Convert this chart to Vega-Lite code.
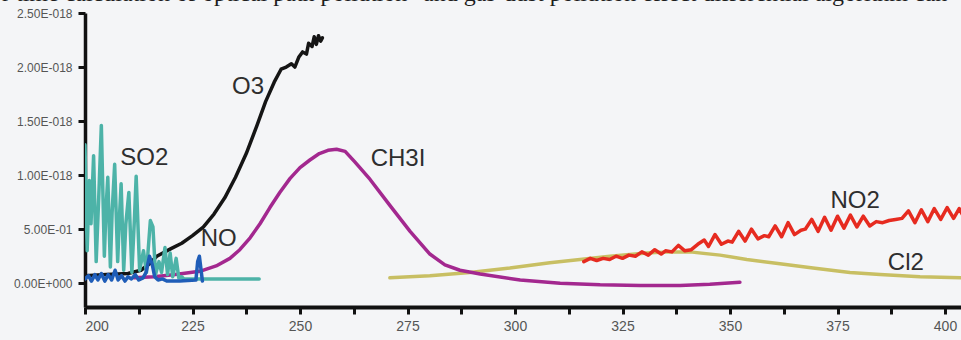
{
  "$schema": "https://vega.github.io/schema/vega-lite/v6.json",
  "autosize": {"type": "none"},
  "padding": {"left": 85, "top": 13, "right": 0, "bottom": 33},
  "width": 876,
  "height": 294,
  "background": "#f4f5f7",
  "title": {
    "text": "r time calculation of optical path pollution\" and gas-dust pollution effect differential algorithm can",
    "anchor": "start",
    "frame": "group",
    "orient": "top",
    "font": "Liberation Serif",
    "fontSize": 24,
    "fontWeight": "normal",
    "color": "#1e1e1e",
    "baseline": "alphabetic",
    "offset": -18,
    "dx": -83
  },
  "config": {
    "view": {"stroke": null},
    "axis": {"grid": false, "zindex": 1, "labelFont": "Liberation Sans", "titleFont": "Liberation Sans"}
  },
  "datasets": {
    "curves": [
      {"s": "Cl2", "nm": 270.9, "v": 0.05},
      {"s": "Cl2", "nm": 280.2, "v": 0.07},
      {"s": "Cl2", "nm": 289.5, "v": 0.10},
      {"s": "Cl2", "nm": 298.8, "v": 0.14},
      {"s": "Cl2", "nm": 308.1, "v": 0.19},
      {"s": "Cl2", "nm": 315.1, "v": 0.22},
      {"s": "Cl2", "nm": 322.1, "v": 0.25},
      {"s": "Cl2", "nm": 330.6, "v": 0.28},
      {"s": "Cl2", "nm": 336.0, "v": 0.29},
      {"s": "Cl2", "nm": 340.7, "v": 0.29},
      {"s": "Cl2", "nm": 347.7, "v": 0.26},
      {"s": "Cl2", "nm": 353.9, "v": 0.22},
      {"s": "Cl2", "nm": 361.6, "v": 0.18},
      {"s": "Cl2", "nm": 369.3, "v": 0.14},
      {"s": "Cl2", "nm": 377.9, "v": 0.10},
      {"s": "Cl2", "nm": 384.9, "v": 0.08},
      {"s": "Cl2", "nm": 394.2, "v": 0.06},
      {"s": "Cl2", "nm": 404.0, "v": 0.05},

      {"s": "CH3I", "nm": 211.5, "v": 0.05},
      {"s": "CH3I", "nm": 216.0, "v": 0.06},
      {"s": "CH3I", "nm": 221.0, "v": 0.08},
      {"s": "CH3I", "nm": 226.7, "v": 0.11},
      {"s": "CH3I", "nm": 230.5, "v": 0.16},
      {"s": "CH3I", "nm": 233.7, "v": 0.23},
      {"s": "CH3I", "nm": 236.0, "v": 0.31},
      {"s": "CH3I", "nm": 238.4, "v": 0.42},
      {"s": "CH3I", "nm": 240.7, "v": 0.55},
      {"s": "CH3I", "nm": 243.0, "v": 0.70},
      {"s": "CH3I", "nm": 245.3, "v": 0.84},
      {"s": "CH3I", "nm": 247.7, "v": 0.97},
      {"s": "CH3I", "nm": 250.0, "v": 1.07},
      {"s": "CH3I", "nm": 252.3, "v": 1.14},
      {"s": "CH3I", "nm": 254.5, "v": 1.20},
      {"s": "CH3I", "nm": 256.5, "v": 1.23},
      {"s": "CH3I", "nm": 258.5, "v": 1.24},
      {"s": "CH3I", "nm": 260.5, "v": 1.22},
      {"s": "CH3I", "nm": 262.8, "v": 1.12},
      {"s": "CH3I", "nm": 266.3, "v": 0.96},
      {"s": "CH3I", "nm": 270.9, "v": 0.72},
      {"s": "CH3I", "nm": 275.6, "v": 0.48},
      {"s": "CH3I", "nm": 280.2, "v": 0.27},
      {"s": "CH3I", "nm": 283.7, "v": 0.17},
      {"s": "CH3I", "nm": 287.2, "v": 0.12},
      {"s": "CH3I", "nm": 291.9, "v": 0.085},
      {"s": "CH3I", "nm": 301.2, "v": 0.03},
      {"s": "CH3I", "nm": 310.5, "v": 0.0},
      {"s": "CH3I", "nm": 319.8, "v": -0.015},
      {"s": "CH3I", "nm": 329.1, "v": -0.02},
      {"s": "CH3I", "nm": 338.4, "v": -0.02},
      {"s": "CH3I", "nm": 345.3, "v": -0.01},
      {"s": "CH3I", "nm": 352.3, "v": 0.01},

      {"s": "O3", "nm": 200.0, "v": 0.07},
      {"s": "O3", "nm": 205.0, "v": 0.08},
      {"s": "O3", "nm": 210.0, "v": 0.09},
      {"s": "O3", "nm": 213.0, "v": 0.12},
      {"s": "O3", "nm": 215.0, "v": 0.18},
      {"s": "O3", "nm": 216.7, "v": 0.25},
      {"s": "O3", "nm": 220.0, "v": 0.32},
      {"s": "O3", "nm": 222.5, "v": 0.37},
      {"s": "O3", "nm": 225.0, "v": 0.44},
      {"s": "O3", "nm": 227.5, "v": 0.52},
      {"s": "O3", "nm": 230.0, "v": 0.64},
      {"s": "O3", "nm": 232.5, "v": 0.79},
      {"s": "O3", "nm": 235.0, "v": 0.98},
      {"s": "O3", "nm": 237.5, "v": 1.20},
      {"s": "O3", "nm": 240.0, "v": 1.46},
      {"s": "O3", "nm": 242.0, "v": 1.68},
      {"s": "O3", "nm": 244.0, "v": 1.86},
      {"s": "O3", "nm": 245.6, "v": 1.98},
      {"s": "O3", "nm": 246.8, "v": 2.00},
      {"s": "O3", "nm": 248.0, "v": 2.03},
      {"s": "O3", "nm": 248.8, "v": 2.00},
      {"s": "O3", "nm": 249.7, "v": 2.09},
      {"s": "O3", "nm": 250.6, "v": 2.14},
      {"s": "O3", "nm": 251.5, "v": 2.12},
      {"s": "O3", "nm": 252.0, "v": 2.22},
      {"s": "O3", "nm": 252.8, "v": 2.19},
      {"s": "O3", "nm": 253.3, "v": 2.28},
      {"s": "O3", "nm": 253.8, "v": 2.21},
      {"s": "O3", "nm": 254.3, "v": 2.29},
      {"s": "O3", "nm": 254.8, "v": 2.24},
      {"s": "O3", "nm": 255.2, "v": 2.27},

      {"s": "SO2", "nm": 200.0, "v": 1.28},
      {"s": "SO2", "nm": 200.5, "v": 0.30},
      {"s": "SO2", "nm": 201.0, "v": 0.95},
      {"s": "SO2", "nm": 201.4, "v": 0.55},
      {"s": "SO2", "nm": 202.0, "v": 1.18},
      {"s": "SO2", "nm": 202.6, "v": 0.20},
      {"s": "SO2", "nm": 203.2, "v": 0.80},
      {"s": "SO2", "nm": 203.8, "v": 1.46},
      {"s": "SO2", "nm": 204.5, "v": 0.25},
      {"s": "SO2", "nm": 204.9, "v": 0.70},
      {"s": "SO2", "nm": 205.3, "v": 0.98},
      {"s": "SO2", "nm": 205.9, "v": 0.15},
      {"s": "SO2", "nm": 206.3, "v": 0.65},
      {"s": "SO2", "nm": 206.9, "v": 1.10},
      {"s": "SO2", "nm": 207.6, "v": 0.20},
      {"s": "SO2", "nm": 208.0, "v": 0.60},
      {"s": "SO2", "nm": 208.4, "v": 0.92},
      {"s": "SO2", "nm": 209.0, "v": 0.12},
      {"s": "SO2", "nm": 209.5, "v": 0.55},
      {"s": "SO2", "nm": 210.2, "v": 0.84},
      {"s": "SO2", "nm": 210.9, "v": 0.10},
      {"s": "SO2", "nm": 211.5, "v": 0.60},
      {"s": "SO2", "nm": 211.9, "v": 0.99},
      {"s": "SO2", "nm": 212.7, "v": 0.12},
      {"s": "SO2", "nm": 213.6, "v": 0.30},
      {"s": "SO2", "nm": 214.3, "v": 0.10},
      {"s": "SO2", "nm": 215.2, "v": 0.58},
      {"s": "SO2", "nm": 215.8, "v": 0.52},
      {"s": "SO2", "nm": 216.4, "v": 0.08},
      {"s": "SO2", "nm": 217.2, "v": 0.20},
      {"s": "SO2", "nm": 217.8, "v": 0.10},
      {"s": "SO2", "nm": 218.6, "v": 0.33},
      {"s": "SO2", "nm": 219.2, "v": 0.08},
      {"s": "SO2", "nm": 219.8, "v": 0.28},
      {"s": "SO2", "nm": 220.4, "v": 0.06},
      {"s": "SO2", "nm": 221.2, "v": 0.23},
      {"s": "SO2", "nm": 221.8, "v": 0.05},
      {"s": "SO2", "nm": 222.5, "v": 0.06},
      {"s": "SO2", "nm": 223.0, "v": 0.04},
      {"s": "SO2", "nm": 240.5, "v": 0.04},

      {"s": "NO2", "nm": 316.0, "v": 0.20},
      {"s": "NO2", "nm": 317.5, "v": 0.23},
      {"s": "NO2", "nm": 319.0, "v": 0.21},
      {"s": "NO2", "nm": 320.5, "v": 0.23},
      {"s": "NO2", "nm": 322.0, "v": 0.22},
      {"s": "NO2", "nm": 323.5, "v": 0.25},
      {"s": "NO2", "nm": 325.0, "v": 0.23},
      {"s": "NO2", "nm": 326.5, "v": 0.26},
      {"s": "NO2", "nm": 328.0, "v": 0.25},
      {"s": "NO2", "nm": 329.5, "v": 0.29},
      {"s": "NO2", "nm": 331.0, "v": 0.26},
      {"s": "NO2", "nm": 332.5, "v": 0.31},
      {"s": "NO2", "nm": 334.0, "v": 0.27},
      {"s": "NO2", "nm": 335.0, "v": 0.30},
      {"s": "NO2", "nm": 336.5, "v": 0.29},
      {"s": "NO2", "nm": 338.0, "v": 0.35},
      {"s": "NO2", "nm": 339.5, "v": 0.30},
      {"s": "NO2", "nm": 341.0, "v": 0.31},
      {"s": "NO2", "nm": 342.5, "v": 0.36},
      {"s": "NO2", "nm": 344.0, "v": 0.40},
      {"s": "NO2", "nm": 345.0, "v": 0.34},
      {"s": "NO2", "nm": 346.5, "v": 0.45},
      {"s": "NO2", "nm": 348.0, "v": 0.36},
      {"s": "NO2", "nm": 349.5, "v": 0.39},
      {"s": "NO2", "nm": 350.5, "v": 0.38},
      {"s": "NO2", "nm": 352.0, "v": 0.48},
      {"s": "NO2", "nm": 353.5, "v": 0.39},
      {"s": "NO2", "nm": 355.0, "v": 0.50},
      {"s": "NO2", "nm": 356.5, "v": 0.41},
      {"s": "NO2", "nm": 358.0, "v": 0.44},
      {"s": "NO2", "nm": 359.0, "v": 0.43},
      {"s": "NO2", "nm": 360.5, "v": 0.53},
      {"s": "NO2", "nm": 362.0, "v": 0.43},
      {"s": "NO2", "nm": 363.5, "v": 0.56},
      {"s": "NO2", "nm": 365.0, "v": 0.45},
      {"s": "NO2", "nm": 366.5, "v": 0.49},
      {"s": "NO2", "nm": 367.5, "v": 0.50},
      {"s": "NO2", "nm": 369.0, "v": 0.59},
      {"s": "NO2", "nm": 370.5, "v": 0.48},
      {"s": "NO2", "nm": 372.0, "v": 0.61},
      {"s": "NO2", "nm": 373.5, "v": 0.49},
      {"s": "NO2", "nm": 375.0, "v": 0.62},
      {"s": "NO2", "nm": 376.5, "v": 0.51},
      {"s": "NO2", "nm": 378.0, "v": 0.63},
      {"s": "NO2", "nm": 379.5, "v": 0.52},
      {"s": "NO2", "nm": 381.0, "v": 0.62},
      {"s": "NO2", "nm": 382.5, "v": 0.53},
      {"s": "NO2", "nm": 384.0, "v": 0.57},
      {"s": "NO2", "nm": 385.5, "v": 0.56},
      {"s": "NO2", "nm": 387.0, "v": 0.58},
      {"s": "NO2", "nm": 388.5, "v": 0.59},
      {"s": "NO2", "nm": 390.0, "v": 0.60},
      {"s": "NO2", "nm": 391.5, "v": 0.67},
      {"s": "NO2", "nm": 393.0, "v": 0.56},
      {"s": "NO2", "nm": 394.5, "v": 0.68},
      {"s": "NO2", "nm": 396.0, "v": 0.57},
      {"s": "NO2", "nm": 397.5, "v": 0.69},
      {"s": "NO2", "nm": 399.0, "v": 0.59},
      {"s": "NO2", "nm": 400.5, "v": 0.70},
      {"s": "NO2", "nm": 402.0, "v": 0.60},
      {"s": "NO2", "nm": 403.3, "v": 0.69},
      {"s": "NO2", "nm": 404.0, "v": 0.64},

      {"s": "NO", "nm": 200.0, "v": 0.04},
      {"s": "NO", "nm": 200.8, "v": 0.07},
      {"s": "NO", "nm": 201.5, "v": 0.02},
      {"s": "NO", "nm": 202.3, "v": 0.08},
      {"s": "NO", "nm": 203.0, "v": 0.03},
      {"s": "NO", "nm": 203.8, "v": 0.09},
      {"s": "NO", "nm": 204.6, "v": 0.02},
      {"s": "NO", "nm": 205.4, "v": 0.08},
      {"s": "NO", "nm": 206.2, "v": 0.03},
      {"s": "NO", "nm": 207.0, "v": 0.12},
      {"s": "NO", "nm": 207.7, "v": 0.03},
      {"s": "NO", "nm": 208.5, "v": 0.07},
      {"s": "NO", "nm": 209.3, "v": 0.02},
      {"s": "NO", "nm": 210.0, "v": 0.06},
      {"s": "NO", "nm": 210.8, "v": 0.04},
      {"s": "NO", "nm": 211.7, "v": 0.08},
      {"s": "NO", "nm": 212.5, "v": 0.03},
      {"s": "NO", "nm": 213.5, "v": 0.05},
      {"s": "NO", "nm": 214.2, "v": 0.10},
      {"s": "NO", "nm": 215.0, "v": 0.25},
      {"s": "NO", "nm": 215.6, "v": 0.18},
      {"s": "NO", "nm": 216.2, "v": 0.06},
      {"s": "NO", "nm": 217.0, "v": 0.03},
      {"s": "NO", "nm": 218.0, "v": 0.04},
      {"s": "NO", "nm": 219.0, "v": 0.02},
      {"s": "NO", "nm": 222.0, "v": 0.02},
      {"s": "NO", "nm": 225.8, "v": 0.03},
      {"s": "NO", "nm": 226.2, "v": 0.20},
      {"s": "NO", "nm": 226.6, "v": 0.25},
      {"s": "NO", "nm": 227.0, "v": 0.12},
      {"s": "NO", "nm": 227.3, "v": 0.02}
    ],
    "labels": [
      {"t": "O3", "nm": 237.9, "v": 1.82},
      {"t": "SO2", "nm": 213.8, "v": 1.16},
      {"t": "NO", "nm": 231.1, "v": 0.41},
      {"t": "CH3I", "nm": 272.8, "v": 1.15},
      {"t": "NO2", "nm": 379.1, "v": 0.76},
      {"t": "Cl2", "nm": 390.9, "v": 0.19}
    ]
  },
  "layer": [
    {
      "mark": {"type": "rect", "clip": false, "color": "#e7eef3"},
      "encoding": {
        "x": {"datum": 180, "type": "quantitative", "scale": {"domain": [200, 403.72], "nice": false, "zero": false}},
        "x2": {"datum": 405},
        "y": {"datum": 0.89, "type": "quantitative", "scale": {"domain": [-0.22, 2.5], "nice": false, "zero": false}},
        "y2": {"datum": -0.6}
      }
    },
    {
      "data": {"name": "curves"},
      "mark": {"type": "line", "strokeJoin": "round", "strokeCap": "round", "clip": true},
      "encoding": {
        "x": {
          "field": "nm", "type": "quantitative",
          "axis": {
            "title": null,
            "values": [200, 212.5, 225, 237.5, 250, 262.5, 275, 287.5, 300, 312.5, 325, 337.5, 350, 362.5, 375, 387.5, 400],
            "labelExpr": "datum.value % 25 == 0 ? format(datum.value, 'd') : ''",
            "domainColor": "#111111", "domainWidth": 4,
            "tickColor": "#111111", "tickWidth": 3, "tickSize": 7,
            "labelFontSize": 14, "labelColor": "#555555", "labelPadding": 5
          }
        },
        "y": {
          "field": "v", "type": "quantitative",
          "axis": {
            "title": null,
            "values": [0, 0.25, 0.5, 0.75, 1, 1.25, 1.5, 1.75, 2, 2.25, 2.5],
            "labelExpr": "datum.value == 2.5 ? '2.50E-018' : datum.value == 2 ? '2.00E-018' : datum.value == 1.5 ? '1.50E-018' : datum.value == 1 ? '1.00E-018' : datum.value == 0.5 ? '5.00E-01' : datum.value == 0 ? '0.00E+000' : ''",
            "domainColor": "#111111", "domainWidth": 3.5,
            "tickColor": "#111111", "tickWidth": 3, "tickSize": 7,
            "labelFontSize": 12, "labelColor": "#555555", "labelPadding": 6
          }
        },
        "color": {
          "field": "s", "type": "nominal", "legend": null,
          "scale": {
            "domain": ["Cl2", "CH3I", "O3", "SO2", "NO2", "NO"],
            "range": ["#c8bf63", "#a3288f", "#151515", "#4db3a8", "#e62b20", "#1f5db8"]
          }
        },
        "strokeWidth": {
          "field": "s", "type": "nominal", "legend": null,
          "scale": {
            "domain": ["Cl2", "CH3I", "O3", "SO2", "NO2", "NO"],
            "range": [3.5, 3.5, 3, 4, 3.5, 3.5]
          }
        }
      }
    },
    {
      "data": {"name": "labels"},
      "mark": {"type": "text", "font": "Liberation Sans", "fontSize": 24, "color": "#2e2e2e", "align": "center", "baseline": "middle"},
      "encoding": {
        "x": {"field": "nm", "type": "quantitative"},
        "y": {"field": "v", "type": "quantitative"},
        "text": {"field": "t"}
      }
    }
  ]
}
